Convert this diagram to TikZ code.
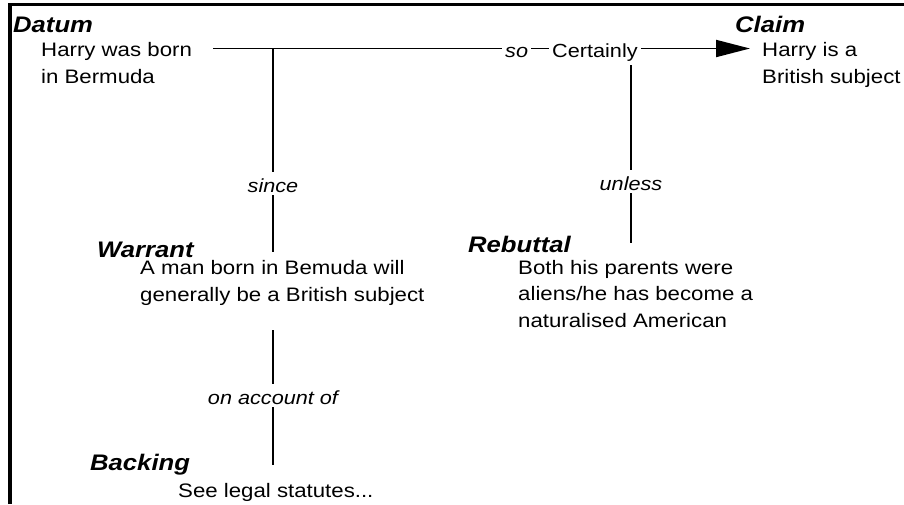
\documentclass[tikz,border=0pt]{standalone}
\usepackage{fontspec}
\setmainfont{Liberation Sans}[FakeStretch=1.14]
\usepackage{tikz}
\usetikzlibrary{arrows.meta}
\tikzstyle{heading}=[anchor=base west, inner sep=0pt, font=\fontsize{22.5}{27}\selectfont\bfseries\itshape]
\tikzstyle{body}=[anchor=base west, inner sep=0pt, align=left, font=\fontsize{19.5}{26.5}\selectfont]
\tikzstyle{hlink}=[anchor=base west, inner xsep=3pt, inner ysep=0pt, text height=17pt, text depth=0pt, font=\fontsize{19}{23}\selectfont]
\tikzstyle{vlink}=[anchor=base, inner sep=2pt, text height=18pt, text depth=1pt, font=\fontsize{19}{23}\selectfont\itshape]
\tikzstyle{connector}=[draw=black, line width=1.9pt]
\tikzstyle{arrow}=[connector, -{Triangle[length=34pt, width=17pt]}, shorten >=12pt]

\begin{document}
\begin{tikzpicture}[x=1pt, y=-1pt]
		   \useasboundingbox (0,0) rectangle (904,504);
		   \draw [line width=3.3pt] (10,504) -- (10,4.7) -- (904,4.7);
		   % texts, placed by the baseline of their last line
		   \begin{scope}
			   \node (datum) at (13,32) [heading] {Datum};
			   \node (dtext) at (41,83) [body] {Harry was born\\in Bermuda};
			   \node (claim) at (735,32) [heading] {Claim};
			   \node (ctext) at (762,83) [body] {Harry is a\\British subject};
			   \node (so) at (502,57) [hlink] {\itshape so};
			   \node (cert) at (549,57) [hlink] {Certainly};
			   \node (since) at (273,192) [vlink] {since};
			   \node (warrant) at (97,257) [heading] {Warrant};
			   \node (wtext) at (140,301) [body] {A man born in Bemuda will\\generally be a British subject};
			   \node (unless) at (631,190) [vlink] {unless};
			   \node (rebuttal) at (468,252) [heading] {Rebuttal};
			   \node (rtext) at (518,327) [body] {Both his parents were\\aliens/he has become a\\naturalised American};
			   \node (account) at (273,404) [vlink] {on account of};
			   \node (backing) at (90,470) [heading] {Backing};
			   \node (btext) at (178,497) [body] {See legal statutes...};
			   \coordinate (dend) at (213,48.5);
			   \coordinate (utop) at (631,65);
			   \coordinate (rtop) at (631,243);
			   \coordinate (wtop) at (273,252);
			   \coordinate (btop) at (273,330);
			   \coordinate (bbot) at (273,465);
		   \end{scope}
		   % connectors
		   \begin{scope}
			   \path [connector] (dend) edge (so);
			   \path [connector] (so) edge (cert);
			   \path [arrow] (cert) edge (ctext.west |- cert);
			   \path [connector] (dend -| since) edge (since);
			   \path [connector] (since) edge (wtop);
			   \path [connector] (utop) edge (unless);
			   \path [connector] (unless) edge (rtop);
			   \path [connector] (btop) edge (account);
			   \path [connector] (account) edge (bbot);
		   \end{scope}
	   \end{tikzpicture}
\end{document}
